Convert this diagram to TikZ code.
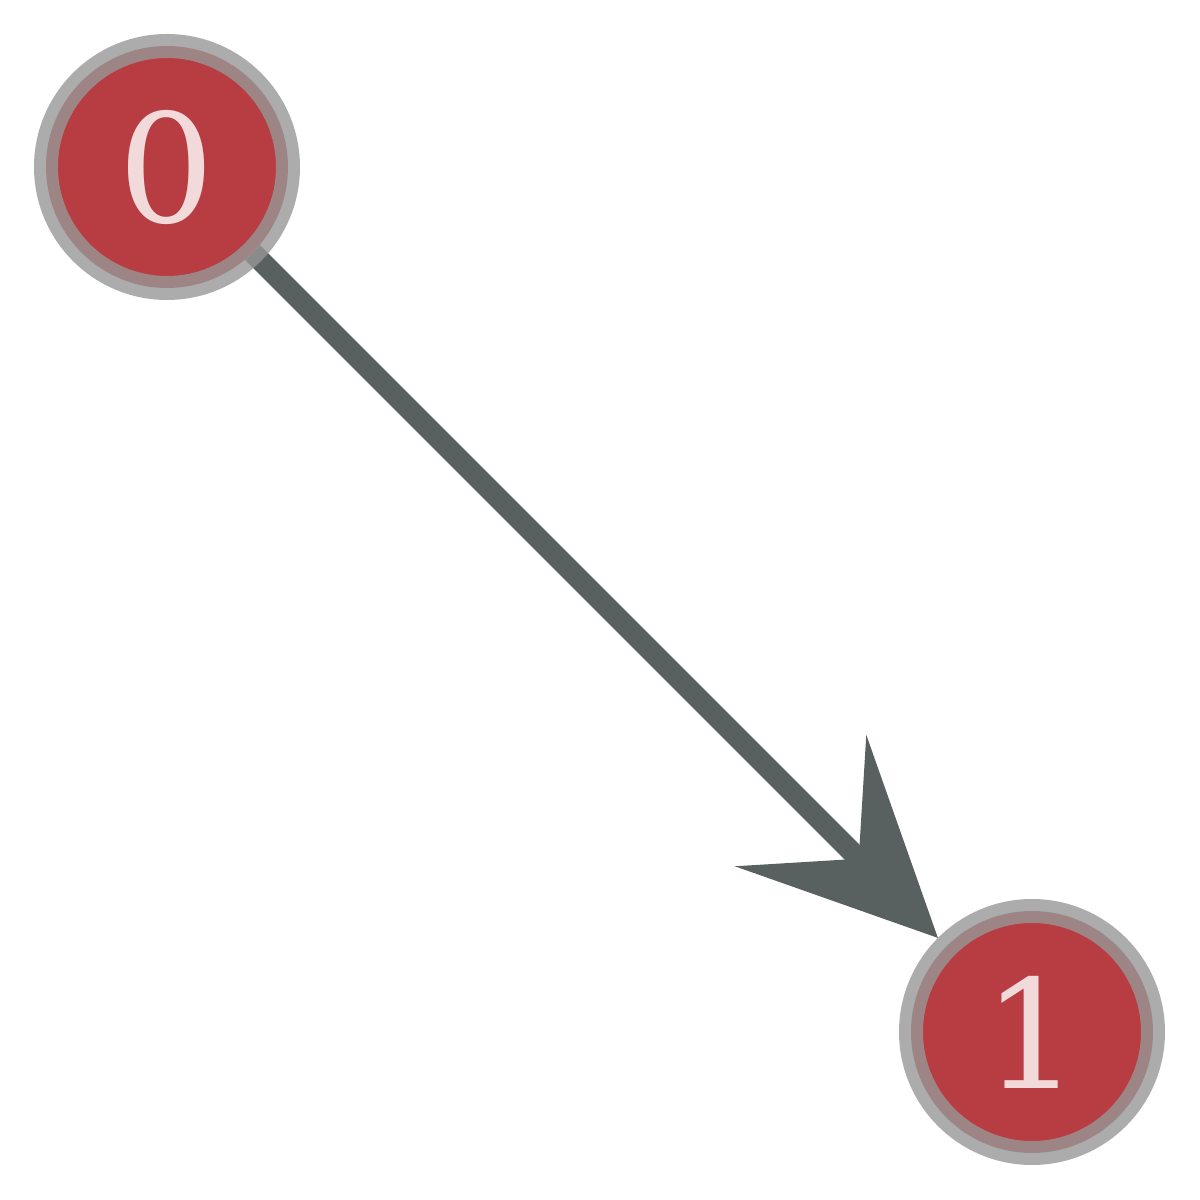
\documentclass[tikz,border=0pt]{standalone}
\usepackage{xcolor}
\usepackage{fontspec}
\setmainfont{DejaVu Serif}
\usetikzlibrary{arrows.meta,backgrounds}

\definecolor{vertexred}{HTML}{B73D43}
\definecolor{vertextext}{HTML}{F2DADA}
\definecolor{ringgray}{HTML}{979797}
\definecolor{edgegray}{HTML}{596060}

\begin{document}
\begin{tikzpicture}
        % Define styles
        \tikzset{
            vertex/.style={circle, draw=ringgray, draw opacity=0.8, fill=vertexred, line width=0.24cm,
                minimum size=2.42cm, inner sep=0pt, text=vertextext, font=\fontsize{43}{50}\selectfont},
            arrow/.style={-{Stealth[length=1.93cm, width=1.84cm, inset=0.81cm]}, edgegray, line width=0.21cm}
        }
        \useasboundingbox (0,0) rectangle (12,12);

        % Nodes
        \node[vertex] (vertex_0) at (1.67,10.33) {0};
        \node[vertex] (vertex_1) at (10.32,1.68) {1};

        % Arrows
        \begin{scope}[on background layer]
            \draw[arrow, shorten <=-0.12cm] (vertex_0) -- (vertex_1);
        \end{scope}
    \end{tikzpicture}
\end{document}
